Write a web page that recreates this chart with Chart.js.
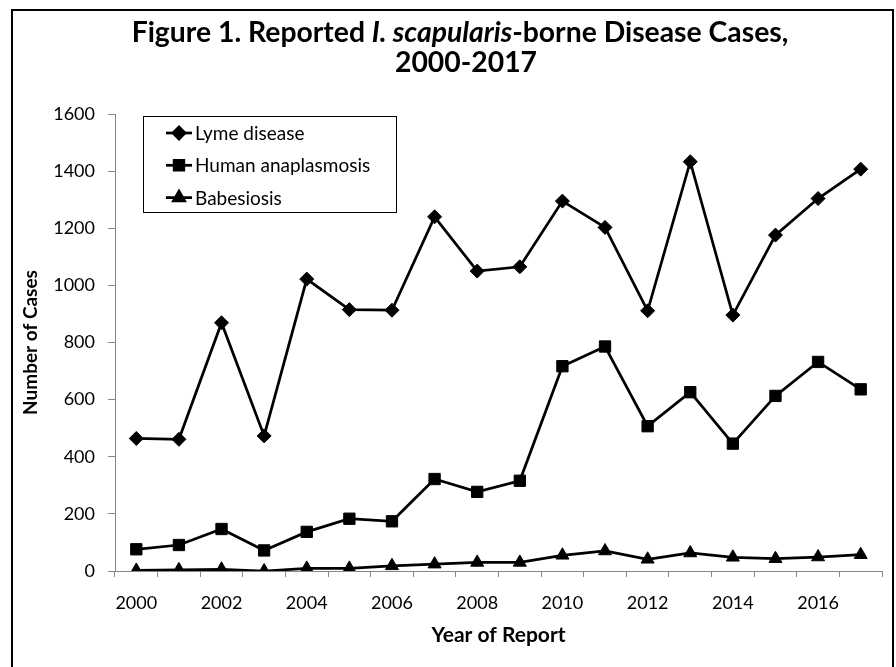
<!DOCTYPE html>
<html>
<head>
<meta charset="utf-8">
<script src="https://cdn.jsdelivr.net/npm/chart.js@4.4.0/dist/chart.umd.min.js"></script>
<style>
  html, body { margin: 0; padding: 0; background: #fff; }
  #wrap { width: 896px; height: 667px; }
</style>
</head>
<body>
<div id="wrap"><canvas id="lineChart" width="896" height="667"></canvas></div>
<script>
// Data
const years = ['2000', '2001', '2002', '2003', '2004', '2005', '2006', '2007', '2008',
  '2009', '2010', '2011', '2012', '2013', '2014', '2015', '2016', '2017'];
const lymeDisease = [464, 461, 869, 473, 1022, 915, 913, 1240, 1050, 1065, 1295, 1203, 911, 1433, 896, 1176, 1304, 1407];
const anaplasmosis = [76, 91, 147, 72, 137, 183, 174, 322, 277, 316, 717, 786, 507, 626, 446, 613, 732, 636];
const babesiosis = [2, 4, 6, 0, 9, 9, 18, 24, 30, 30, 55, 70, 41, 63, 48, 43, 49, 57];
const yTicks = [0, 200, 400, 600, 800, 1000, 1200, 1400, 1600];

const FONT = 'Lato, "Open Sans", "Liberation Sans", sans-serif';
const AXIS_GRAY = '#868686';

// Outer frame of the figure
const framePlugin = {
  id: 'frame',
  beforeDraw: function(chart) {
    const ctx = chart.ctx;
    ctx.save();
    ctx.fillStyle = '#fff';
    ctx.fillRect(0, 0, chart.width, chart.height);
    ctx.strokeStyle = '#000';
    ctx.lineWidth = 2;
    ctx.strokeRect(12, 10, 881, 700);
    ctx.restore();
  }
};

// Title with an italic species name in the middle
const titlePlugin = {
  id: 'mixedTitle',
  afterDraw: function(chart) {
    const ctx = chart.ctx;
    const parts = [
      { text: 'Figure 1. Reported ', style: 'bold' },
      { text: 'I. scapularis', style: 'italic bold' },
      { text: '-borne Disease Cases,', style: 'bold' }
    ];
    const targetWidth = 657;
    ctx.save();
    // size the font so the first line spans the same width as the figure
    let size = 28;
    let total = 0;
    parts.forEach(function(p) {
      ctx.font = p.style + ' ' + size + 'px ' + FONT;
      total += ctx.measureText(p.text).width;
    });
    size = Math.min(32, size * targetWidth / total);
    total = 0;
    parts.forEach(function(p) {
      ctx.font = p.style + ' ' + size + 'px ' + FONT;
      p.w = ctx.measureText(p.text).width;
      total += p.w;
    });
    const cx = 460;
    let x = cx - total / 2;
    ctx.fillStyle = '#000';
    ctx.textBaseline = 'alphabetic';
    ctx.textAlign = 'left';
    parts.forEach(function(p) {
      ctx.font = p.style + ' ' + size + 'px ' + FONT;
      ctx.fillText(p.text, x, 42);
      x += p.w;
    });
    ctx.font = 'bold ' + size + 'px ' + FONT;
    ctx.textAlign = 'center';
    ctx.fillText('2000-2017', 466, 72);
    ctx.restore();
  }
};

// Boxed legend inside the plot, line + marker per series
const boxLegendPlugin = {
  id: 'boxLegend',
  afterDraw: function(chart) {
    const ctx = chart.ctx;
    const area = chart.chartArea;
    const left = area.left + 28;
    const top = area.top + 2;
    const w = 253, h = 96;
    ctx.save();
    ctx.strokeStyle = '#000';
    ctx.lineWidth = 1;
    ctx.strokeRect(Math.round(left) + 0.5, Math.round(top) + 0.5, w, h);
    ctx.font = '19px ' + FONT;
    ctx.textBaseline = 'middle';
    ctx.textAlign = 'left';
    chart.data.datasets.forEach(function(ds, i) {
      const y = top + 17 + i * 32.3;
      ctx.strokeStyle = '#000';
      ctx.lineWidth = 2.75;
      ctx.beginPath();
      ctx.moveTo(left + 23, y);
      ctx.lineTo(left + 49, y);
      ctx.stroke();
      ctx.fillStyle = '#000';
      Chart.helpers.drawPoint(ctx, {
        pointStyle: ds.pointStyle,
        radius: ds.pointRadius * 0.85,
        rotation: 0,
        borderWidth: 1
      }, left + 36, y);
      ctx.fillStyle = '#000';
      ctx.fillText(ds.label, left + 52, y + 1);
    });
    ctx.restore();
  }
};

const lineData = {
  labels: years,
  datasets: [{
    label: 'Lyme disease',
    data: lymeDisease,
    pointStyle: 'rectRot',
    pointRadius: 7
  }, {
    label: 'Human anaplasmosis',
    data: anaplasmosis,
    pointStyle: 'rect',
    pointRadius: 8
  }, {
    label: 'Babesiosis',
    data: babesiosis,
    pointStyle: 'triangle',
    pointRadius: 7.5
  }].map(function(ds) {
    return Object.assign({
      borderColor: '#000',
      backgroundColor: '#000',
      pointBackgroundColor: '#000',
      pointBorderColor: '#000',
      pointBorderWidth: 1,
      borderWidth: 2.75,
      tension: 0,
      fill: false
    }, ds);
  })
};

const lineOptions = {
  responsive: false,
  animation: false,
  events: [],
  layout: {
    padding: { left: 0, top: 114, right: 14, bottom: 0 }
  },
  plugins: {
    legend: { display: false },
    title: { display: false },
    tooltip: { enabled: false }
  },
  scales: {
    x: {
      type: 'category',
      offset: true,
      grid: {
        offset: true,
        drawOnChartArea: false,
        drawTicks: true,
        tickLength: 6,
        color: AXIS_GRAY,
        lineWidth: 1
      },
      border: { color: AXIS_GRAY, width: 1 },
      ticks: {
        autoSkip: false,
        maxRotation: 0,
        minRotation: 0,
        padding: 15,
        color: '#000',
        font: { family: FONT, size: 18 },
        callback: function(value, index) {
          return index % 2 === 0 ? this.getLabelForValue(value) : '';
        }
      },
      title: {
        display: true,
        text: 'Year of Report',
        color: '#000',
        font: { family: FONT, size: 21, weight: 'bold' },
        padding: 19
      },
      afterFit: function(scale) { scale.height = 96; }
    },
    y: {
      min: 0,
      max: 1600,
      afterBuildTicks: function(scale) {
        scale.ticks = yTicks.map(function(v) { return { value: v }; });
      },
      grid: {
        drawOnChartArea: false,
        drawTicks: true,
        tickLength: 7,
        color: AXIS_GRAY,
        lineWidth: 1
      },
      border: { color: AXIS_GRAY, width: 1 },
      ticks: {
        padding: 13,
        color: '#000',
        font: { family: FONT, size: 18 },
        callback: function(value) { return String(value); }
      },
      title: {
        display: true,
        text: 'Number of Cases',
        color: '#000',
        font: { family: FONT, size: 19, weight: 'bold' },
        padding: { top: 19, bottom: 0 }
      },
      afterFit: function(scale) { scale.width = 115; }
    }
  }
};

const ctx = document.getElementById('lineChart').getContext('2d');

new Chart(ctx, {
  type: 'line',
  data: lineData,
  options: lineOptions,
  plugins: [framePlugin, titlePlugin, boxLegendPlugin]
});
</script>
</body>
</html>
